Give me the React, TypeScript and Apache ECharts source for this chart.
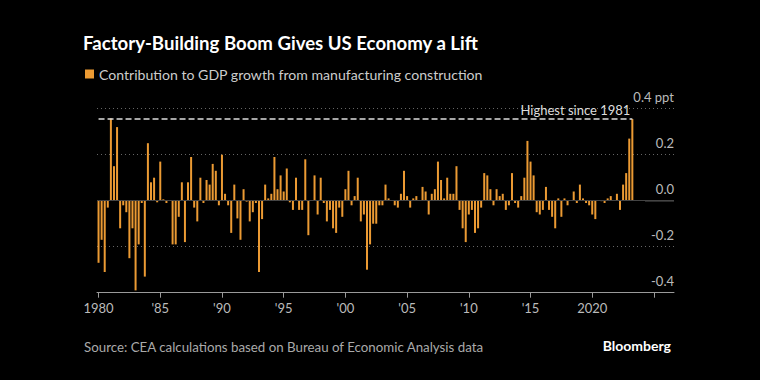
import React, { useEffect, useRef } from "react";
import * as echarts from "echarts";

const titleText = "Factory-Building Boom Gives US Economy a Lift";
const seriesName = "Contribution to GDP growth from manufacturing construction";
const sourceText = "Source: CEA calculations based on Bureau of Economic Analysis data";
const annotationText = "Highest since 1981";

// Quarterly categories 1980 Q1 .. 2026 Q3 (axis extends past the data)
const firstYear = 1980;
const categoryCount = 187;
const quarters: string[] = [];
for (let i = 0; i < categoryCount; i++) {
  quarters.push(`${firstYear + Math.floor(i / 4)} Q${(i % 4) + 1}`);
}

const tickLabels = ["1980", "'85", "'90", "'95", "'00", "'05", "'10", "'15", "2020"];

// Contribution to GDP growth (ppt), 1980 Q1 .. 2023 Q2
const contribution: number[] = [
  // 1980
  -0.27, -0.17, -0.31, -0.03,
  // 1981
  0.358, 0.15, 0.32, -0.12,
  // 1982
  -0.02, -0.05, -0.25, -0.12,
  // 1983
  -0.39, -0.19, -0.01, -0.33,
  // 1984
  0.25, 0.08, 0.10, -0.007,
  // 1985
  0.17, 0.006, -0.01, 0.003,
  // 1986
  -0.19, -0.19, -0.07, 0.08,
  // 1987
  -0.18, 0.08, 0.19, -0.03,
  // 1988
  -0.09, 0.10, -0.01, 0.09,
  // 1989
  0.07, 0.16, 0.13, -0.02,
  // 1990
  0.20, 0.03, -0.02, -0.14,
  // 1991
  0.07, -0.077, -0.17, 0.05,
  // 1992
  -0.004, -0.09, -0.05, -0.01,
  // 1993
  -0.31, -0.08, 0.07, 0.01,
  // 1994
  0.03, 0.19, 0.05, 0.11,
  // 1995
  0.04, 0.14, -0.007, -0.04,
  // 1996
  0.10, -0.04, -0.04, 0.18,
  // 1997
  -0.15, 0.003, 0.11, -0.06,
  // 1998
  0.10, -0.01, -0.09, -0.04,
  // 1999
  -0.12, -0.14, -0.03, -0.07,
  // 2000
  0.05, 0.13, -0.02, 0.02,
  // 2001
  0.10, -0.09, -0.06, -0.30,
  // 2002
  -0.19, -0.10, -0.10, -0.02,
  // 2003
  -0.02, 0.07, 0.01, 0.003,
  // 2004
  -0.02, -0.03, 0.03, 0.13,
  // 2005
  0.02, -0.03, 0.01, 0.02,
  // 2006
  0.003, 0.06, 0.04, -0.06,
  // 2007
  0.03, 0.05, 0.17, 0.09,
  // 2008
  0.01, 0.10, 0.03, 0.03,
  // 2009
  0.15, -0.04, -0.12, -0.18,
  // 2010
  -0.06, -0.04, -0.14, -0.12,
  // 2011
  -0.03, 0.12, 0.11, 0.05,
  // 2012
  -0.02, 0.05, 0.02, 0.03,
  // 2013
  -0.04, -0.02, 0.12, -0.01,
  // 2014
  -0.03, 0.02, 0.10, 0.26,
  // 2015
  0.17, 0.11, -0.05, -0.06,
  // 2016
  -0.04, 0.06, -0.04, -0.07,
  // 2017
  -0.12, 0.01, -0.07, 0.01,
  // 2018
  -0.02, 0.002, 0.04, -0.01,
  // 2019
  0.07, 0.01, -0.01, -0.02,
  // 2020
  -0.06, -0.08, 0.002, -0.002,
  // 2021
  -0.01, 0.01, 0.02, 0.002,
  // 2022
  0.03, -0.04, 0.07, 0.12,
  // 2023
  0.27, 0.355,
];

const BAR = "#eb9a33";
const FONT = "Lato, 'Noto Sans', sans-serif";

export default function App() {
  const ref = useRef<HTMLDivElement>(null);

  useEffect(() => {
    if (!ref.current) return;
    const chart = echarts.init(ref.current, undefined, { renderer: "svg" });
    const maxVal = Math.max(...contribution);
    const lastCat = quarters[contribution.length - 1];

    const option: any = {
      animation: false,
      backgroundColor: "#000000",
      textStyle: { fontFamily: FONT },
      title: {
        text: titleText,
        left: 83,
        top: 33,
        padding: 0,
        textStyle: { color: "#ffffff", fontSize: 18.6, fontWeight: "bold", fontFamily: FONT },
      },
      legend: {
        data: [seriesName],
        left: 85,
        top: 67,
        padding: 0,
        icon: "rect",
        itemWidth: 9,
        itemHeight: 9,
        selectedMode: false,
        textStyle: { color: "#cccccc", fontSize: 14.1, fontFamily: FONT },
      },
      grid: { left: 97, right: 86, top: 108.7, bottom: 87.3 },
      xAxis: {
        type: "category",
        data: quarters,
        boundaryGap: true,
        axisLine: { show: true, onZero: false, lineStyle: { color: "#9a9a9a", width: 1 } },
        axisTick: {
          show: true,
          alignWithLabel: true,
          interval: (i: number) => i % 20 === 0,
          length: 5,
          lineStyle: { color: "#9a9a9a" },
        },
        axisLabel: {
          interval: (i: number) => i % 20 === 0,
          formatter: (_v: string, i: number) => tickLabels[i / 20] ?? "",
          color: "#bbbbbb",
          fontSize: 13,
          margin: 9,
          fontFamily: FONT,
        },
        splitLine: { show: false },
      },
      yAxis: {
        type: "value",
        position: "right",
        min: -0.4,
        max: 0.4,
        interval: 0.2,
        axisLine: { show: false },
        axisTick: { show: false },
        splitLine: { show: true, lineStyle: { color: "#666666", type: [1, 3], width: 1 } },
        axisLabel: {
          inside: true,
          margin: 0,
          verticalAlign: "bottom",
          padding: [0, 0, 5, 0],
          color: "#bbbbbb",
          fontSize: 13,
          fontFamily: FONT,
          formatter: (v: number) => (Math.abs(v - 0.4) < 1e-9 ? "0.4 ppt" : v.toFixed(1)),
        },
      },
      series: [
        {
          name: seriesName,
          type: "bar",
          data: contribution,
          barWidth: 2,
          itemStyle: { color: BAR },
          markLine: {
            silent: true,
            symbol: ["none", "none"],
            animation: false,
            data: [
              { yAxis: 0, lineStyle: { color: "#444444", type: "solid", width: 1 }, label: { show: false } },
              [
                {
                  coord: [quarters[0], maxVal],
                  lineStyle: { color: "#dddddd", type: [6, 3], width: 1.5 },
                  label: {
                    show: true,
                    position: "insideEndTop",
                    formatter: annotationText,
                    color: "#dddddd",
                    fontSize: 13,
                    distance: 2,
                    fontFamily: FONT,
                  },
                },
                { coord: [lastCat, maxVal] },
              ],
            ],
          },
        },
      ],
    };
    chart.setOption(option);

    const zeroY = chart.convertToPixel({ yAxisIndex: 0 }, 0) as number;
    chart.setOption({
      graphic: [
        {
          type: "line",
          silent: true,
          shape: { x1: 645, y1: zeroY, x2: 674, y2: zeroY },
          style: { stroke: "#dddddd", lineWidth: 1 },
        },
        {
          type: "text",
          left: 84,
          top: 340,
          style: { text: sourceText, fill: "#aaaaaa", fontSize: 13.3, fontFamily: FONT },
        },
        {
          type: "text",
          right: 89,
          top: 338,
          style: { text: "Bloomberg", fill: "#ffffff", fontSize: 14, fontWeight: "bold", fontFamily: FONT },
        },
      ],
    });

    return () => chart.dispose();
  }, []);

  return (
    <div
      ref={ref}
      style={{ position: "fixed", left: 0, top: 0, width: 760, height: 380 }}
    />
  );
}
